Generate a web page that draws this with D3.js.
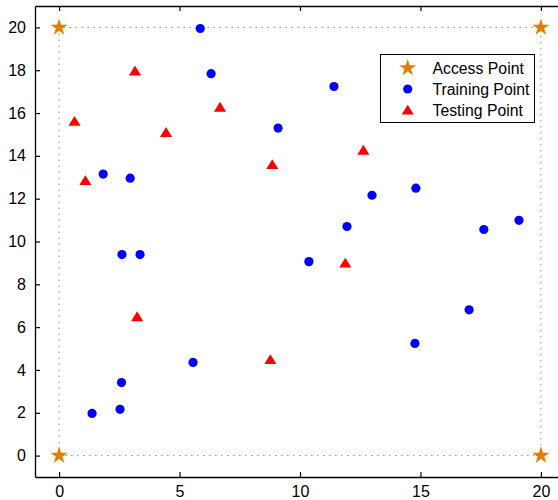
<!DOCTYPE html>
<html><head><meta charset="utf-8">
<script src="https://cdn.jsdelivr.net/npm/d3@7"></script>
<style>body{margin:0;background:#fff;overflow:hidden}svg{display:block}text{font-family:"Liberation Sans",Arial,sans-serif}</style>
</head><body>
<script>
const accessX = [0, 20, 0, 20];
const accessY = [0, 0, 20, 20];
const trainX = [5.86, 6.31, 11.41, 9.09, 1.83, 2.95, 12.99, 14.81, 11.95, 17.63, 19.09, 2.61, 3.36, 10.37, 17.02, 14.77, 5.56, 2.59, 1.37, 2.53];
const trainY = [19.95, 17.84, 17.24, 15.30, 13.15, 12.96, 12.16, 12.49, 10.70, 10.56, 10.99, 9.39, 9.39, 9.06, 6.81, 5.24, 4.35, 3.41, 1.97, 2.16];
const testX = [3.15, 0.64, 4.44, 6.68, 1.09, 8.85, 12.63, 11.88, 3.24, 8.77];
const testY = [17.97, 15.62, 15.10, 16.28, 12.85, 13.60, 14.27, 9.00, 6.49, 4.49];
const xTicks = [0, 5, 10, 15, 20];
const yTicks = [0, 2, 4, 6, 8, 10, 12, 14, 16, 18, 20];
const legendLabels = ["Access Point", "Training Point", "Testing Point"];

const W = 558, H = 500;
const svg = d3.select("body").append("svg").attr("width", W).attr("height", H);
const x = d3.scaleLinear().domain([-1, 21]).range([35, 565]);
const y = d3.scaleLinear().domain([-1, 21]).range([477, 6]);

const orange = "#E08000", blue = "#0000FF", red = "#FF0000";

// dotted square connecting access points
const sq = [[0,0],[20,0],[20,20],[0,20],[0,0]];
svg.append("path")
  .attr("d", d3.line().x(d => x(d[0])).y(d => y(d[1]))(sq))
  .attr("fill", "none").attr("stroke", "#8a8a8a").attr("stroke-width", 1)
  .attr("stroke-dasharray", "1.5,4.5");

// axes
const gB = svg.append("g").attr("transform", `translate(0,${y(-1)})`)
  .call(d3.axisBottom(x).tickValues(xTicks).tickSizeInner(-5).tickSizeOuter(0).tickPadding(9).tickFormat(d3.format("d")));
const gT = svg.append("g").attr("transform", `translate(0,${y(21)})`)
  .call(d3.axisTop(x).tickValues(xTicks).tickSizeInner(-5).tickSizeOuter(0).tickFormat(""));
const gL = svg.append("g").attr("transform", `translate(${x(-1)},0)`)
  .call(d3.axisLeft(y).tickValues(yTicks).tickSizeInner(-5).tickSizeOuter(0).tickPadding(9).tickFormat(d3.format("d")));
[gB, gT, gL].forEach(g => {
  g.select(".domain").attr("stroke", "#000").attr("stroke-width", 1.3);
  g.selectAll(".tick line").attr("stroke", "#000").attr("stroke-width", 1.2);
  g.selectAll(".tick text").attr("font-size", 16).attr("fill", "#000")
    .style("font-family", "'Liberation Sans', Arial, sans-serif");
});
gB.selectAll(".tick text").attr("dy", "0.71em");

const starSym = d3.symbol(d3.symbolStar, 91);
const triPath = (s) => `M0,${-s*0.48}L${s*0.55},${s*0.42}L${-s*0.55},${s*0.42}Z`;

// access points
svg.append("g").selectAll("path").data(accessX.map((v, i) => [v, accessY[i]])).join("path")
  .attr("d", starSym()).attr("fill", orange)
  .attr("transform", d => `translate(${x(d[0])},${y(d[1])})`);
// training points
svg.append("g").selectAll("circle").data(trainX.map((v, i) => [v, trainY[i]])).join("circle")
  .attr("cx", d => x(d[0])).attr("cy", d => y(d[1])).attr("r", 4.6).attr("fill", blue);
// testing points
svg.append("g").selectAll("path").data(testX.map((v, i) => [v, testY[i]])).join("path")
  .attr("d", triPath(11)).attr("fill", red)
  .attr("transform", d => `translate(${x(d[0])},${y(d[1])})`);

// legend
const lg = svg.append("g");
lg.append("rect").attr("x", 380.5).attr("y", 54.5).attr("width", 154).attr("height", 68)
  .attr("fill", "#fff").attr("stroke", "#000").attr("stroke-width", 1);
const rows = [68, 89, 110];
lg.append("path").attr("d", starSym()).attr("fill", orange).attr("transform", `translate(407.7,${rows[0]})`);
lg.append("circle").attr("cx", 407.7).attr("cy", rows[1]).attr("r", 4.6).attr("fill", blue);
lg.append("path").attr("d", triPath(11)).attr("fill", red).attr("transform", `translate(407.7,${rows[2]})`);
legendLabels.forEach((t, i) => {
  lg.append("text").attr("x", 432.5).attr("y", rows[i]).attr("dy", "0.36em")
    .attr("font-size", 15.8).attr("fill", "#000").text(t);
});
</script>
</body></html>
